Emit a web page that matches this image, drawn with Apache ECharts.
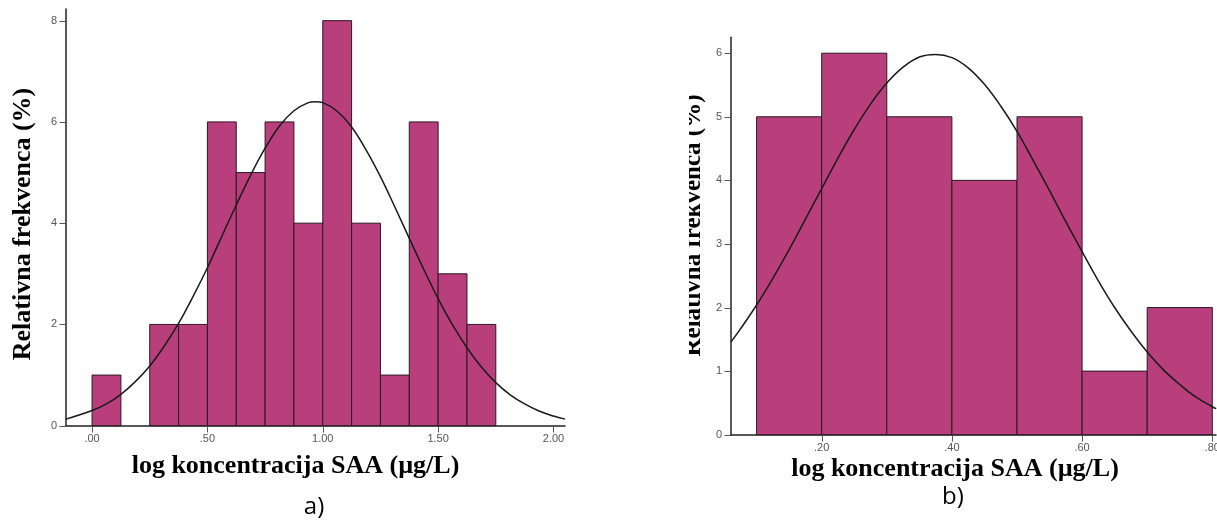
<!DOCTYPE html>
<html>
<head>
<meta charset="utf-8">
<script src="https://cdn.jsdelivr.net/npm/echarts@6/dist/echarts.min.js"></script>
<style>
html,body{margin:0;padding:0;background:#fff;}
#chart{width:1217px;height:521px;}
</style>
</head>
<body>
<div id="chart"></div>
<script>
// ---- Data: panel a) ----
const aBinStart = [0.000, 0.250, 0.375, 0.500, 0.625, 0.750, 0.875, 1.000, 1.125, 1.250, 1.375, 1.500, 1.625];
const aBinEnd   = [0.125, 0.375, 0.500, 0.625, 0.750, 0.875, 1.000, 1.125, 1.250, 1.375, 1.500, 1.625, 1.750];
const aCounts   = [1, 2, 2, 6, 5, 6, 4, 8, 4, 1, 6, 3, 2];
const aCurveX = [-0.113, 0, 0.0625, 0.125, 0.1875, 0.25, 0.3125, 0.375, 0.4375, 0.5, 0.5625, 0.625, 0.6875, 0.75, 0.8125, 0.875, 0.9375, 0.967, 1.0, 1.0625, 1.125, 1.1875, 1.25, 1.3125, 1.375, 1.4375, 1.5, 1.5625, 1.625, 1.6875, 1.75, 1.8125, 1.875, 1.9375, 2.0, 2.05];
const aCurveY = [0.13, 0.30, 0.43, 0.62, 0.87, 1.18, 1.57, 2.02, 2.55, 3.12, 3.74, 4.36, 4.95, 5.48, 5.92, 6.22, 6.38, 6.40, 6.38, 6.21, 5.90, 5.45, 4.92, 4.32, 3.70, 3.09, 2.51, 1.99, 1.54, 1.16, 0.85, 0.61, 0.43, 0.29, 0.19, 0.13];
const aXRange = [-0.113, 2.05];
const aYRange = [0, 8.23];
const aXTicks = [0, 0.5, 1.0, 1.5, 2.0];
const aXTickLabels = ['.00', '.50', '1.00', '1.50', '2.00'];
const aYTicks = [0, 2, 4, 6, 8];
const aYTickLabels = ['0', '2', '4', '6', '8'];

// ---- Data: panel b) ----
const bBinStart = [0.1, 0.2, 0.3, 0.4, 0.5, 0.6, 0.7];
const bBinEnd   = [0.2, 0.3, 0.4, 0.5, 0.6, 0.7, 0.8];
const bCounts   = [5, 6, 5, 4, 5, 1, 2];
const bCurveX = [0.0607, 0.075, 0.1, 0.125, 0.15, 0.175, 0.2, 0.225, 0.25, 0.275, 0.3, 0.325, 0.35, 0.375, 0.4, 0.425, 0.45, 0.475, 0.5, 0.525, 0.55, 0.575, 0.6, 0.625, 0.65, 0.675, 0.7, 0.725, 0.75, 0.775, 0.8, 0.806];
const bCurveY = [1.46, 1.66, 2.04, 2.46, 2.91, 3.39, 3.87, 4.35, 4.80, 5.20, 5.53, 5.78, 5.94, 5.98, 5.93, 5.77, 5.51, 5.17, 4.77, 4.31, 3.84, 3.35, 2.88, 2.42, 2.00, 1.63, 1.30, 1.02, 0.79, 0.59, 0.44, 0.41];
const bXRange = [0.0607, 0.8057];
const bYRange = [0, 6.25];
const bXTicks = [0.2, 0.4, 0.6, 0.8];
const bXTickLabels = ['.20', '.40', '.60', '.80'];
const bYTicks = [0, 1, 2, 3, 4, 5, 6];
const bYTickLabels = ['0', '1', '2', '3', '4', '5', '6'];

const yTitle = 'Relativna frekvenca (%)';
const xTitle = 'log koncentracija SAA (µg/L)';
const panelLabels = ['a)', 'b)'];

// ---- Styles ----
const BAR_FILL = '#b93f7c';
const BAR_STROKE = '#2b1822';
const AXIS_COLOR = '#222';
const TICK_COLOR = '#555';
const LABEL_FONT = '"Liberation Sans", Arial, sans-serif';
const SERIF = '"Liberation Serif", "Times New Roman", serif';

function zip(a, b) { return a.map((v, i) => [v, b[i]]); }
function histData(s, e, c) { return s.map((v, i) => [v, e[i], c[i]]); }
function lookup(ticks, labels) {
  return function (val) {
    for (let i = 0; i < ticks.length; i++) if (Math.abs(ticks[i] - val) < 1e-6) return labels[i];
    return '';
  };
}

function renderBin(params, api) {
  const p0 = api.coord([api.value(0), api.value(2)]);
  const p1 = api.coord([api.value(1), 0]);
  return {
    type: 'rect',
    shape: { x: p0[0], y: p0[1], width: p1[0] - p0[0], height: p1[1] - p0[1] },
    style: { fill: BAR_FILL, stroke: BAR_STROKE, lineWidth: 1 }
  };
}
// Tick marks placed through the axis scales (tick values -> pixel via api.coord)
function tickRenderer(dir, len) {
  return function (params, api) {
    const p = api.coord([api.value(0), api.value(1)]);
    const x = Math.round(p[0]) + 0.5, y = Math.round(p[1]) + 0.5;
    const shape = dir === 'x' ? { x1: x, y1: y, x2: x, y2: y + len } : { x1: x - len, y1: y, x2: x, y2: y };
    return { type: 'line', shape: shape, style: { stroke: TICK_COLOR, lineWidth: 1 } };
  };
}
function tickSeries(axisIdx, dir, ticks, fixed, len) {
  const data = ticks.map(v => dir === 'x' ? [v, fixed] : [fixed, v]);
  return { type: 'custom', xAxisIndex: axisIdx, yAxisIndex: axisIdx, clip: false, silent: true, z: 1,
           renderItem: tickRenderer(dir, len), encode: { x: 0, y: 1 }, data: data };
}

function axisCfg(gi, range, splitNumber, ticks, labels, margin) {
  return {
    type: 'value', gridIndex: gi, min: range[0], max: range[1], splitNumber: splitNumber,
    splitLine: { show: false },
    axisLine: { show: true, onZero: false, lineStyle: { color: AXIS_COLOR, width: 1.5 } },
    axisTick: { show: false },
    axisLabel: { show: true, formatter: lookup(ticks, labels), color: TICK_COLOR, fontSize: 11, fontFamily: LABEL_FONT, margin: margin }
  };
}

const chart = echarts.init(document.getElementById('chart'), null, { renderer: 'canvas' });
chart.setOption({
  backgroundColor: '#fff',
  animation: false,
  grid: [
    { left: 66, top: 9, width: 499, height: 416.7, outerBoundsMode: 'none', containLabel: false },
    { left: 731, top: 37.3, width: 485, height: 397.4, outerBoundsMode: 'none', containLabel: false }
  ],
  xAxis: [
    axisCfg(0, aXRange, 5, aXTicks, aXTickLabels, 8),
    axisCfg(1, bXRange, 4, bXTicks, bXTickLabels, 8)
  ],
  yAxis: [
    axisCfg(0, aYRange, 5, aYTicks, aYTickLabels, 9),
    axisCfg(1, bYRange, 5, bYTicks, bYTickLabels, 9)
  ],
  series: [
    { type: 'custom', xAxisIndex: 0, yAxisIndex: 0, renderItem: renderBin, encode: { x: [0, 1], y: 2 }, data: histData(aBinStart, aBinEnd, aCounts), z: 2 },
    { type: 'line', xAxisIndex: 0, yAxisIndex: 0, data: zip(aCurveX, aCurveY), smooth: 0.4, showSymbol: false, symbol: 'none', lineStyle: { color: '#1a1a1a', width: 1.5 }, z: 3 },
    { type: 'custom', xAxisIndex: 1, yAxisIndex: 1, renderItem: renderBin, encode: { x: [0, 1], y: 2 }, data: histData(bBinStart, bBinEnd, bCounts), z: 2 },
    { type: 'line', xAxisIndex: 1, yAxisIndex: 1, data: zip(bCurveX, bCurveY), smooth: 0.4, showSymbol: false, symbol: 'none', lineStyle: { color: '#1a1a1a', width: 1.5 }, z: 3 },
    tickSeries(0, 'x', aXTicks, aYRange[0], 6),
    tickSeries(0, 'y', aYTicks, aXRange[0], 7),
    tickSeries(1, 'x', bXTicks, bYRange[0], 6),
    tickSeries(1, 'y', bYTicks, bXRange[0], 7)
  ],
  graphic: [
    { type: 'text', x: 23.5, y: 224, rotation: Math.PI / 2, z: 50,
      style: { text: yTitle, font: 'bold 26px ' + SERIF, fill: '#000', textAlign: 'center', textVerticalAlign: 'middle' } },
    { type: 'text', x: 694, y: 225.5, rotation: Math.PI / 2, z: 50,
      style: { text: yTitle, font: 'bold 25px ' + SERIF, fill: '#000', textAlign: 'center', textVerticalAlign: 'middle' } },
    { type: 'rect', z: 60, shape: { x: 600, y: 0, width: 89, height: 521 }, style: { fill: '#fff' } },
    { type: 'text', x: 295.5, y: 466, z: 50,
      style: { text: xTitle, font: 'bold 26px ' + SERIF, fill: '#000', textAlign: 'center', textVerticalAlign: 'middle' } },
    { type: 'text', x: 955, y: 469, z: 50,
      style: { text: xTitle, font: 'bold 26px ' + SERIF, fill: '#000', textAlign: 'center', textVerticalAlign: 'middle' } },
    { type: 'text', x: 314, y: 507, z: 50,
      style: { text: panelLabels[0], font: '24px "Open Sans", "Liberation Sans", sans-serif', fill: '#000', textAlign: 'center', textVerticalAlign: 'middle' } },
    { type: 'text', x: 953, y: 497.5, z: 50,
      style: { text: panelLabels[1], font: '24px "Open Sans", "Liberation Sans", sans-serif', fill: '#000', textAlign: 'center', textVerticalAlign: 'middle' } }
  ]
});
</script>
</body>
</html>
